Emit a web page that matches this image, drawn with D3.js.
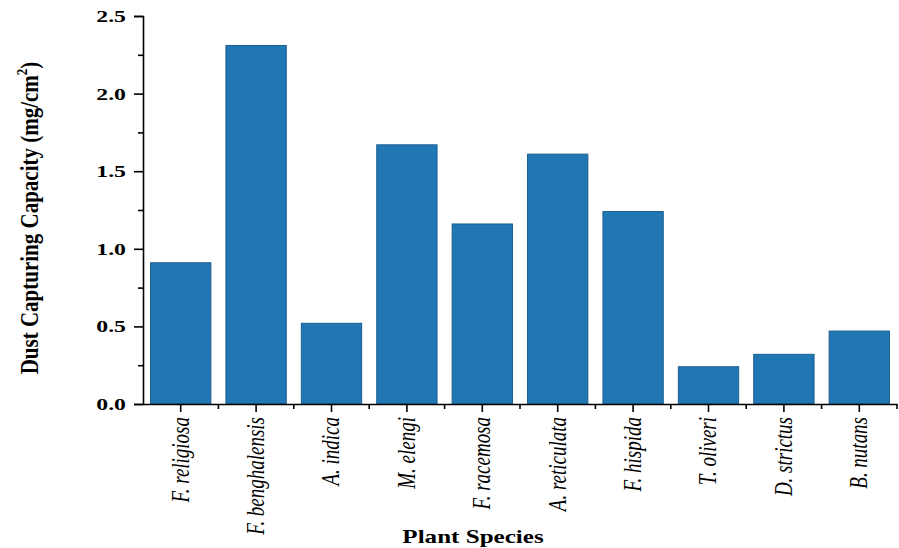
<!DOCTYPE html>
<html>
<head>
<meta charset="utf-8">
<script src="https://cdn.jsdelivr.net/npm/d3@7"></script>
<style>
  body { margin: 0; background: #fff; }
  svg { display: block; }
  text { font-family: "Liberation Serif", "Times New Roman", serif; fill: #000; }
</style>
</head>
<body>
<svg width="899" height="548"></svg>
<script>
const species = ['F. religiosa', 'F. benghalensis', 'A. indica', 'M. elengi', 'F. racemosa',
  'A. reticulata', 'F. hispida', 'T. oliveri', 'D. strictus', 'B. nutans'];
const capacity = [0.91, 2.31, 0.52, 1.67, 1.16, 1.61, 1.24, 0.24, 0.32, 0.47];
const yTicks = [0, 0.5, 1.0, 1.5, 2.0, 2.5];
const yMinorTicks = [0.25, 0.75, 1.25, 1.75, 2.25];

const data = species.map((s, i) => ({name: s, value: capacity[i]}));

const svg = d3.select('svg');
const plot = {left: 143, right: 897, top: 16, bottom: 404};

const xScale = d3.scaleBand()
  .domain(species)
  .range([plot.left, plot.right])
  .paddingInner(0.2)
  .paddingOuter(0.1);

const yScale = d3.scaleLinear()
  .domain([0, 2.5])
  .range([plot.bottom, plot.top]);

// bars
svg.append('g')
  .selectAll('rect')
  .data(data)
  .join('rect')
    .attr('x', d => xScale(d.name))
    .attr('y', d => yScale(d.value))
    .attr('width', xScale.bandwidth())
    .attr('height', d => yScale(0) - yScale(d.value))
    .attr('fill', '#2077b4')
    .attr('stroke', '#1b5f90')
    .attr('stroke-width', 1);

// y axis (major + minor)
const yAxis = svg.append('g')
  .attr('transform', `translate(${plot.left},0)`)
  .call(d3.axisLeft(yScale).tickValues(yTicks).tickSize(9).tickPadding(8).tickFormat(d3.format('.1f')));
yAxis.select('.domain').attr('stroke-width', 1.6);
yAxis.selectAll('.tick line').attr('stroke-width', 1.6);
yAxis.selectAll('.tick text')
  .attr('font-size', 17)
  .attr('font-weight', 'bold')
  .attr('x', -17 / 1.4)
  .attr('transform', 'scale(1.4,1)');

svg.append('g')
  .attr('transform', `translate(${plot.left},0)`)
  .call(d3.axisLeft(yScale).tickValues(yMinorTicks).tickSize(5).tickFormat(''))
  .call(g => g.select('.domain').remove())
  .selectAll('.tick line').attr('stroke-width', 1.6);

// x axis (major at centres, minor at band edges)
const xAxis = svg.append('g')
  .attr('transform', `translate(0,${plot.bottom})`)
  .call(d3.axisBottom(xScale).tickSize(8).tickSizeOuter(0));
xAxis.select('.domain').attr('stroke-width', 1.6);
xAxis.selectAll('.tick line').attr('stroke-width', 1.6);
xAxis.selectAll('.tick text')
  .attr('font-size', 19)
  .attr('font-style', 'italic')
  .attr('text-anchor', 'end')
  .attr('x', 0)
  .attr('y', 0)
  .attr('dy', '0.32em')
  .attr('transform', 'translate(0,13) scale(1.3,1) rotate(-90)');

const edges = species.slice(1).map(s => xScale(s) - xScale.step() * xScale.paddingInner() / 2)
  .concat([plot.right]);
svg.append('g')
  .attr('transform', `translate(0,${plot.bottom})`)
  .selectAll('line')
  .data(edges)
  .join('line')
    .attr('x1', d => d).attr('x2', d => d)
    .attr('y1', 0).attr('y2', 5)
    .attr('stroke', '#000')
    .attr('stroke-width', 1.6);

// axis titles
const yTitle = svg.append('text')
  .attr('transform', 'translate(38,218) scale(1.2,1) rotate(-90)')
  .attr('text-anchor', 'middle')
  .attr('font-size', 21)
  .attr('font-weight', 'bold');
yTitle.append('tspan').text('Dust Capturing Capacity (mg/cm');
yTitle.append('tspan').attr('font-size', 13).attr('dy', -9).text('2');
yTitle.append('tspan').attr('dy', 9).text(')');

svg.append('text')
  .attr('transform', 'translate(473,543) scale(1.32,1)')
  .attr('text-anchor', 'middle')
  .attr('font-size', 19)
  .attr('font-weight', 'bold')
  .text('Plant Species');
</script>
</body>
</html>
